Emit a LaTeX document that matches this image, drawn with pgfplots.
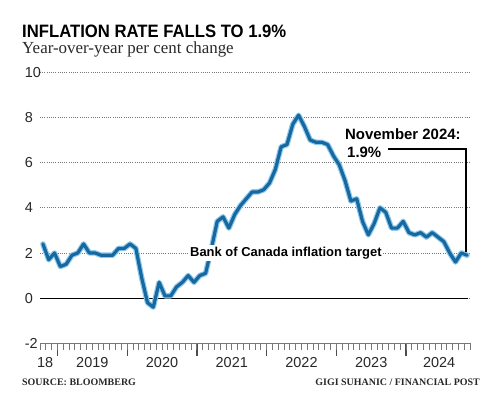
\documentclass[border=0pt]{standalone}
\usepackage{fontspec}
\setmainfont{Liberation Sans}
\newfontfamily\seriffont{Liberation Serif}
\usepackage{pgfplots}
\usepackage{pgfplotstable}
\pgfplotsset{compat=1.18}
\definecolor{linedark}{RGB}{24,104,160}
\definecolor{linelight}{RGB}{140,200,236}
\definecolor{gridgray}{RGB}{120,120,120}
\definecolor{tickgray}{RGB}{120,120,120}
\definecolor{textgray}{RGB}{40,40,40}

\pgfplotstableread{
m v
-3 2.4
-2 1.7
-1 2.0
0 1.4
1 1.5
2 1.9
3 2.0
4 2.4
5 2.0
6 2.0
7 1.9
8 1.9
9 1.9
10 2.2
11 2.2
12 2.4
13 2.2
14 0.9
15 -0.2
16 -0.4
17 0.7
18 0.1
19 0.1
20 0.5
21 0.7
22 1.0
23 0.7
24 1.0
25 1.1
26 2.2
27 3.4
28 3.6
29 3.1
30 3.7
31 4.1
32 4.4
33 4.7
34 4.7
35 4.8
36 5.1
37 5.7
38 6.7
39 6.8
40 7.7
41 8.1
42 7.6
43 7.0
44 6.9
45 6.9
46 6.8
47 6.3
48 5.9
49 5.2
50 4.3
51 4.4
52 3.4
53 2.8
54 3.3
55 4.0
56 3.8
57 3.1
58 3.1
59 3.4
60 2.9
61 2.8
62 2.9
63 2.7
64 2.9
65 2.7
66 2.5
67 2.0
68 1.6
69 2.0
70 1.9
}\cpidata

\begin{document}
\begin{tikzpicture}[x=1bp,y=1bp]
\useasboundingbox (0,0) rectangle (501,402);
\begin{axis}[
  at={(40bp,58.7bp)}, anchor=south west,
  scale only axis, width=430bp, height=271bp,
  xmin=-3.5, xmax=70.5, ymin=-2, ymax=10,
  axis x line*=bottom, axis y line*=left,
  y axis line style={draw=none},
  x axis line style={draw=tickgray, line width=0.8pt, -},
  xtick={-0.5,11.5,23.5,35.5,47.5,59.5},
  xticklabels={},
  major tick length=13bp,
  xtick align=outside, ytick align=inside,
  every major x tick/.append style={draw=black!70, line width=1.3pt},
  every major y tick/.append style={draw=none},
  ytick={-2,0,2,4,6,8,10},
  yticklabels={-2,0,2,4,6,8,10},
  yticklabel style={text width=15bp, align=left, anchor=east, inner sep=0pt},
  tick label style={font=\fontsize{14.5}{16}\selectfont, text=textgray},
  ymajorgrids,
  major grid style={draw=gridgray, line width=0.9pt, dash pattern=on 0.9bp off 1.3bp},
  clip=false,
]
\pgfplotsinvokeforeach{-3.5,-2.5,...,70.5}{
  \draw[tickgray, line width=0.9pt] (axis cs:#1,-2) -- ([yshift=-7bp]axis cs:#1,-2);
}
\draw[black, line width=1pt] (axis cs:-3.5,0) -- (axis cs:70.2,0);
\addplot[linelight, line width=5.5bp, line join=round, line cap=round] table[x=m,y=v] {\cpidata};
\addplot[linedark, line width=3.2bp, line join=round, line cap=round] table[x=m,y=v] {\cpidata};
\node[fill=white, inner xsep=1.5bp, inner ysep=1.8bp, anchor=base west,
      font=\bfseries\fontsize{13}{15}\selectfont, text=black]
   at (axis cs:22.05,1.84) {Bank of Canada inflation target};
\draw[black, line width=1.2pt] (axis cs:56.4,6.60) -- (axis cs:69.8,6.60) -- (axis cs:69.8,2.05);
\begin{scope}[every node/.style={anchor=base, inner sep=0pt, yshift=-23.7bp,
      font=\fontsize{14.5}{16}\selectfont, text=textgray}]
\node at (axis cs:-2.6,-2) {18};
\node at (axis cs:5.5,-2) {2019};
\node at (axis cs:17.5,-2) {2020};
\node at (axis cs:29.5,-2) {2021};
\node at (axis cs:41.5,-2) {2022};
\node at (axis cs:53.5,-2) {2023};
\node at (axis cs:65.2,-2) {2024};
\end{scope}
\end{axis}
\node[anchor=base west, inner sep=0pt, font=\bfseries\fontsize{18}{20}\selectfont]
  at (22,365) {\scalebox{0.93}[1]{INFLATION RATE FALLS TO 1.9\%}};
\node[anchor=base west, inner sep=0pt, font=\seriffont\fontsize{17}{19}\selectfont, text=textgray]
  at (22,348.5) {Year-over-year per cent change};
\node[anchor=base west, inner sep=0pt, font=\bfseries\fontsize{15}{17}\selectfont]
  at (345,263) {November 2024:};
\node[anchor=base west, inner sep=0pt, font=\bfseries\fontsize{15}{17}\selectfont]
  at (347,245) {1.9\%};
\node[anchor=base west, inner sep=0pt, font=\seriffont\bfseries\fontsize{10}{12}\selectfont, text=textgray]
  at (22,17) {SOURCE: BLOOMBERG};
\node[anchor=base east, inner sep=0pt, font=\seriffont\bfseries\fontsize{10}{12}\selectfont, text=textgray]
  at (480,17) {GIGI SUHANIC / FINANCIAL POST};
\end{tikzpicture}
\end{document}
